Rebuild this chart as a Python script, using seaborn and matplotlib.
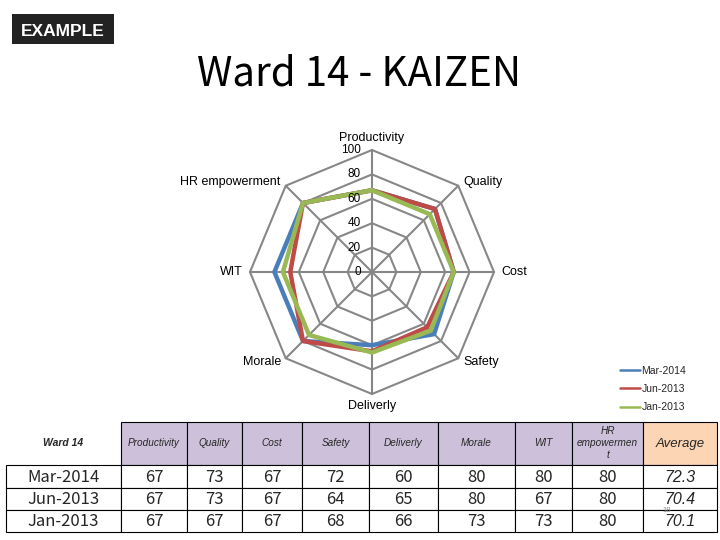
import matplotlib
matplotlib.use("Agg")
import matplotlib.pyplot as plt
from matplotlib.lines import Line2D
from matplotlib.patches import Rectangle
import numpy as np
import pandas as pd
import seaborn as sns

# data
categories = ["Productivity", "Quality", "Cost", "Safety", "Deliverly",
              "Morale", "WIT", "HR empowerment"]
periods = ["Mar-2014", "Jun-2013", "Jan-2013"]
mar_2014 = [67, 73, 67, 72, 60, 80, 80, 80]
jun_2013 = [67, 73, 67, 64, 65, 80, 67, 80]
jan_2013 = [67, 67, 67, 68, 66, 73, 73, 80]
averages = ["72.3", "70.4", "70.1"]
radial_ticks = [0, 20, 40, 60, 80, 100]
header_labels = ["Productivity", "Quality", "Cost", "Safety", "Deliverly",
                 "Morale", "WIT", "HR\nempowermen\nt"]

colors = {"Mar-2014": "#4A7EBB", "Jun-2013": "#BE4B48", "Jan-2013": "#98B954"}
grid_col = "#878787"

sns.set_style("white")
plt.rcParams["font.family"] = ["Liberation Sans", "DejaVu Sans"]

n = len(categories)
angles = np.arange(n) * 2 * np.pi / n
rows = []
for name, vals in zip(periods, [mar_2014, jun_2013, jan_2013]):
    for k in range(n + 1):
        i = k % n
        rows.append({"period": name, "theta": 2 * np.pi * k / n, "value": vals[i]})
df = pd.DataFrame(rows)

fig = plt.figure(figsize=(7.2, 5.4), dpi=100)
fig.patch.set_facecolor("white")

# overlay axes in pixel coords for title, table, badges
ov = fig.add_axes([0, 0, 1, 1])
ov.set_xlim(0, 720)
ov.set_ylim(540, 0)
ov.axis("off")

# radar
ax = fig.add_axes([250 / 720, (540 - 394) / 540, 244 / 720, 244 / 540], projection="polar")
ax.set_theta_zero_location("N")
ax.set_theta_direction(-1)

closed = np.append(angles, 2 * np.pi)
for r in radial_ticks[1:]:
    ax.plot(closed, [r] * (n + 1), color=grid_col, lw=1.5, zorder=1, clip_on=False)
for a in angles:
    ax.plot([a, a], [0, 100], color=grid_col, lw=1.5, zorder=1, clip_on=False)

sns.lineplot(data=df, x="theta", y="value", hue="period", hue_order=periods,
             palette=colors, sort=False, estimator=None, lw=3.2, legend=False,
             ax=ax, zorder=3)
for ln in ax.lines[-3:]:
    ln.set_solid_joinstyle("round")
    ln.set_clip_on(False)

ax.set_ylim(0, 100)
ax.axis("off")

for r in radial_ticks:
    ax.annotate(str(r), xy=(0, r), xytext=(-8, 0), textcoords="offset points",
                ha="right", va="center", fontsize=8.5, color="black")

for a, cat in zip(angles, categories):
    s, c = np.sin(a), np.cos(a)
    ha = "left" if s > 0.1 else ("right" if s < -0.1 else "center")
    if abs(s) < 0.1:
        va = "bottom" if c > 0 else "top"
    else:
        va = "center"
    ax.annotate(cat, xy=(a, 100), xytext=(5 * s, 4 * c), textcoords="offset points",
                ha=ha, va=va, fontsize=9, color="black", annotation_clip=False)

handles = [Line2D([], [], color=colors[p], lw=1.8) for p in periods]
fig.legend(handles, periods, loc="upper left", bbox_to_anchor=(620 / 720, 1 - 366 / 540),
           frameon=False, fontsize=7.5, handlelength=1.9, handletextpad=0.15,
           labelspacing=0.78, borderpad=0, borderaxespad=0)

# badge and title
ov.add_patch(Rectangle((12, 14), 102, 30, facecolor="#222222", edgecolor="none"))
ov.text(63, 36, "EXAMPLE", color="white", fontsize=12.5, fontweight="bold",
        ha="center", va="baseline")
ov.text(359, 86, "Ward 14 - KAIZEN", fontsize=29, ha="center", va="baseline",
        color="black", family=["Noto Sans CJK JP", "DejaVu Sans"])

# table
col_edges = [6, 121, 187, 242, 302, 369, 438, 515, 572, 643, 717]
row_edges = [422, 465, 488, 510, 532]

for j in range(1, len(col_edges) - 1):
    x0, x1 = col_edges[j], col_edges[j + 1]
    fc = "#FCD5B4" if j == len(col_edges) - 2 else "#CCC0DA"
    ov.add_patch(Rectangle((x0, row_edges[0]), x1 - x0, row_edges[1] - row_edges[0],
                           facecolor=fc, edgecolor="black", lw=0.8))
    xc = (x0 + x1) / 2
    yc = (row_edges[0] + row_edges[1]) / 2
    if j <= len(header_labels):
        ov.text(xc, yc, header_labels[j - 1], ha="center", va="center",
                fontsize=7.2, style="italic", linespacing=1.25)
    else:
        ov.text(xc, yc, "Average", ha="center", va="center", fontsize=9.5,
                style="italic")

ov.text((col_edges[0] + col_edges[1]) / 2, (row_edges[0] + row_edges[1]) / 2, "Ward 14",
        ha="center", va="center", fontsize=7.5, style="italic", fontweight="bold")

table_vals = [mar_2014, jun_2013, jan_2013]
for i, p in enumerate(periods):
    y0, y1 = row_edges[i + 1], row_edges[i + 2]
    yc = (y0 + y1) / 2
    for j in range(len(col_edges) - 1):
        x0, x1 = col_edges[j], col_edges[j + 1]
        ov.add_patch(Rectangle((x0, y0), x1 - x0, y1 - y0, facecolor="white",
                               edgecolor="black", lw=0.8))
        xc = (x0 + x1) / 2
        if j == 0:
            txt = p
        elif j <= n:
            txt = str(table_vals[i][j - 1])
        else:
            txt = None
        if txt is not None:
            ov.text(xc, yc + 0.5, txt, ha="center", va="center", fontsize=12,
                    family=["Noto Sans CJK JP", "DejaVu Sans"])
        else:
            ov.text(xc, yc + 1, averages[i], ha="center", va="center", fontsize=11.5,
                    style="italic")

ov.text(667, 511, "18", ha="center", va="center", fontsize=5.5, color="#8C8C8C")

fig.savefig("out.png", dpi=100)
